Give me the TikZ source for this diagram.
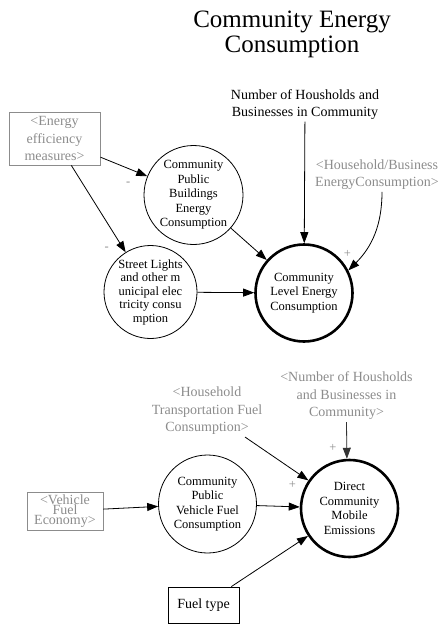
\documentclass[tikz,border=0pt]{standalone}
\usepackage{fontspec}
\setmainfont{Liberation Serif}
\usetikzlibrary{arrows.meta}
\definecolor{vgray}{RGB}{140,140,140}
\begin{document}
\begin{tikzpicture}[x=1pt,y=1pt,
  every node/.style={align=center, inner sep=2pt},
  titletext/.style={font=\fontsize{25}{25}\selectfont},
  plaintext/.style={font=\fontsize{14}{17}\selectfont},
  circnode/.style={circle, draw, line width=0.8pt, inner sep=0pt, font=\fontsize{12.5}{14.5}\selectfont},
  thickcirc/.style={circnode, line width=2.6pt},
  shadowtext/.style={text=vgray, font=\fontsize{14}{17.5}\selectfont},
  graybox/.style={rectangle, draw=vgray, text=vgray, line width=0.8pt},
  blackbox/.style={rectangle, draw, line width=0.8pt},
  conn/.style={-{Triangle[length=11pt,width=8pt]}, line width=0.8pt},
  lbl/.style={text=vgray, font=\fontsize{12.5}{14}\selectfont, inner sep=0pt}
]
\useasboundingbox (0,0) rectangle (443,-626);

% title
\node[titletext] (title) at (292,-34.5) {Community Energy\\Consumption};

% upper part
\node[plaintext] (nh) at (305,-104.5) {Number of Housholds and\\Businesses in Community};
\node[graybox, shadowtext, minimum width=91pt, minimum height=53pt] (ee) at (54.5,-138.5) {<Energy\\efficiency\\measures>};
\node[circnode, minimum size=99pt] (pb) at (193.5,-195) {Community\\Public\\Buildings\\Energy\\Consumption};
\node[circnode, minimum size=93pt, font=\fontsize{12.5}{13.5}\selectfont] (sl) at (150.5,-292) {Street Lights\\and other m\\unicipal elec\\tricity consu\\mption};
\node[thickcirc, minimum size=97pt] (cl) at (304,-293) {Community\\Level Energy\\Consumption};
\node[shadowtext] (hb) at (377,-174.5) {<Household/Business\\EnergyConsumption>};

% lower part
\node[shadowtext] (nb) at (346.5,-396) {<Number of Housholds\\and Businesses in\\Community>};
\node[shadowtext] (ht) at (207,-411) {<Household\\Transportation Fuel\\Consumption>};
\node[thickcirc, minimum size=97pt] (dc) at (349.5,-508.5) {Direct\\Community\\Mobile\\Emissions};
\node[circnode, minimum size=98pt] (cpv) at (207.5,-504) {Community\\Public\\Vehicle Fuel\\Consumption};
\node[graybox, text=vgray, minimum width=76pt, minimum height=38pt, font={\fontsize{14}{10}\selectfont\lineskiplimit=-20pt}] (vf) at (65,-511) {<Vehicle\\Fuel\\Economy>};
\node[blackbox, plaintext, minimum width=71pt, minimum height=36pt] (ft) at (203.5,-605) {Fuel type};

% connectors, upper part
\draw[conn] (ee) -- node[lbl, at end, xshift=-19pt, yshift=-8pt] {-} (pb);
\draw[conn] (ee) -- node[lbl, at end, xshift=-19pt, yshift=3pt] {-} (sl);
\draw[conn] (nh) -- (cl);
\draw[conn] ([xshift=5pt]hb.south) to[out=-90, in=45] node[lbl, at end, xshift=-1pt, yshift=16pt] {+} (cl.27);
\draw[conn] (pb) -- (cl);
\draw[conn] (sl) -- (cl);

% connectors, lower part
\draw[conn] (vf) -- (cpv);
\draw[conn] (cpv) -- (dc);
\draw[conn] (ht) -- node[lbl, at end, xshift=-16pt, yshift=-5pt] {+} (dc);
\draw[conn, draw=black!80, fill=black!80] (nb.south) -- node[lbl, at end, xshift=-14pt, yshift=11pt] {+} (dc.93);
\draw[conn] (ft) -- (dc);
\end{tikzpicture}
\end{document}
